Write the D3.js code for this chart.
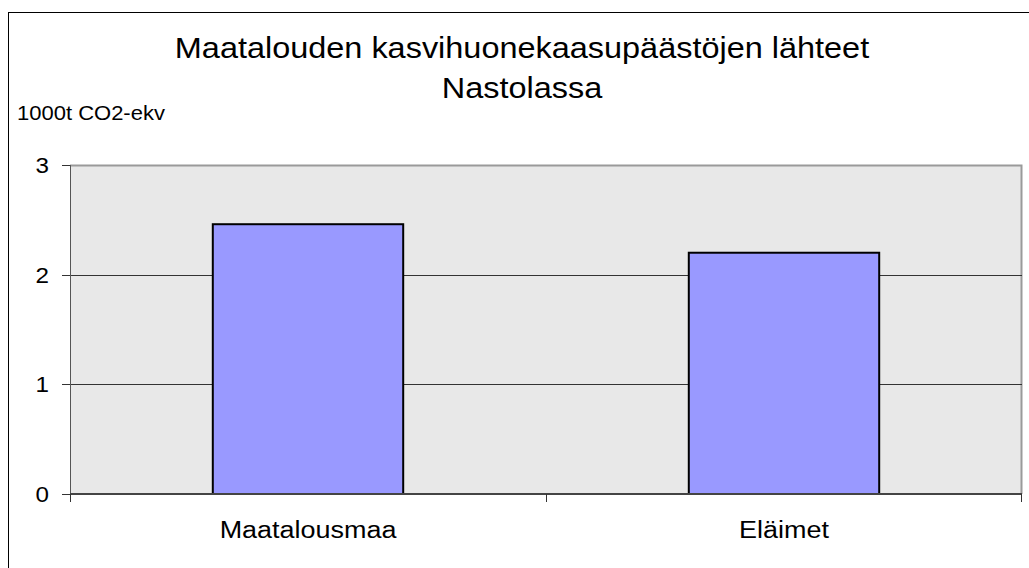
<!DOCTYPE html>
<html>
<head>
<meta charset="utf-8">
<script src="https://cdn.jsdelivr.net/npm/d3@7"></script>
<style>
  body { margin: 0; background: #fff; }
  svg { display: block; font-family: 'Liberation Sans', Arial, sans-serif; }
</style>
</head>
<body>
<div id="graf"></div>
<script>
// Maatalouden päästöt - pylväskaavio

categories = ['Maatalousmaa', 'Eläimet']
values     = [2.46, 2.2]
yTicks     = [0, 1, 2, 3]
titleLines = ['Maatalouden kasvihuonekaasupäästöjen lähteet', 'Nastolassa']
yLabel     = '1000t CO2-ekv'

ancho_total = 1029
alto_total  = 568
margins = { top: 165, left: 70, right: 7, bottom: 74 }
ancho = ancho_total - margins.left - margins.right
alto  = alto_total - margins.top - margins.bottom

sx = 1.1   // the original text is a bit stretched horizontally

svg = d3.select('#graf').append('svg')
        .attr('width', ancho_total)
        .attr('height', alto_total)

// marco exterior (cortado a la derecha y abajo)
svg.append('rect')
  .attr('x', 8.5).attr('y', 12.5)
  .attr('width', 1040).attr('height', 600)
  .attr('fill', 'none').attr('stroke', '#000')

function stretchedText(sel, txt, x, y, size, anchor) {
  return sel.append('text')
    .attr('transform', `translate(${x}, ${y}) scale(${sx}, 1)`)
    .attr('text-anchor', anchor)
    .attr('font-size', `${size}px`)
    .attr('fill', '#000')
    .text(txt)
}

titleLines.forEach((t, i) => stretchedText(svg, t, 522, 58 + i * 40, 29.5, 'middle'))
stretchedText(svg, yLabel, 17, 120, 20, 'start')

g = svg.append('g')
      .attr('transform', `translate(${ margins.left }, ${ margins.top })`)

x = d3.scaleBand().domain(categories).range([0, ancho])
y = d3.scaleLinear().domain([0, 3]).range([alto, 0])

g.append('rect')
  .attr('x', 0).attr('y', 0)
  .attr('width', ancho).attr('height', alto)
  .attr('fill', '#e8e8e8')

// borde superior y derecho
g.append('path')
  .attr('d', `M0,0.5H${ancho - 0.5}V${alto}`)
  .attr('fill', 'none').attr('stroke', '#9a9a9a').attr('stroke-width', 2)

// líneas de cuadrícula
g.selectAll('.grid')
  .data(yTicks.filter(d => d > 0 && d < 3))
  .enter().append('line')
    .attr('x1', 0).attr('x2', ancho)
    .attr('y1', d => Math.round(y(d)) + 0.5)
    .attr('y2', d => Math.round(y(d)) + 0.5)
    .attr('stroke', '#333')

// barras
bw = x.bandwidth() * 0.4
g.selectAll('.bar')
  .data(values)
  .enter().append('rect')
    .attr('x', (d, i) => x(categories[i]) + x.bandwidth() / 2 - bw / 2)
    .attr('y', d => y(d))
    .attr('width', bw)
    .attr('height', d => alto - y(d))
    .attr('fill', '#9999ff')
    .attr('stroke', '#000')
    .attr('stroke-width', 2)

// eje Y
g.append('line')
  .attr('x1', 0.5).attr('x2', 0.5)
  .attr('y1', 0).attr('y2', alto + 8)
  .attr('stroke', '#555')
g.selectAll('.ytick')
  .data(yTicks)
  .enter().append('line')
    .attr('x1', -8).attr('x2', 0)
    .attr('y1', d => Math.round(y(d)) + 0.5)
    .attr('y2', d => Math.round(y(d)) + 0.5)
    .attr('stroke', '#333')
yTicks.forEach(d => stretchedText(g, d, -21, y(d) + 8, 22, 'end'))

// eje X
g.append('line')
  .attr('x1', 0).attr('x2', ancho)
  .attr('y1', alto).attr('y2', alto)
  .attr('stroke', '#444').attr('stroke-width', 2)
xEdges = categories.map(c => x(c)).concat([ancho])
g.selectAll('.xtick')
  .data(xEdges)
  .enter().append('line')
    .attr('x1', d => Math.min(Math.round(d), ancho - 1) + 0.5)
    .attr('x2', d => Math.min(Math.round(d), ancho - 1) + 0.5)
    .attr('y1', alto).attr('y2', alto + 8)
    .attr('stroke', '#333')
categories.forEach(c => stretchedText(g, c, x(c) + x.bandwidth() / 2, alto + 44, 24.5, 'middle'))
</script>
</body>
</html>
